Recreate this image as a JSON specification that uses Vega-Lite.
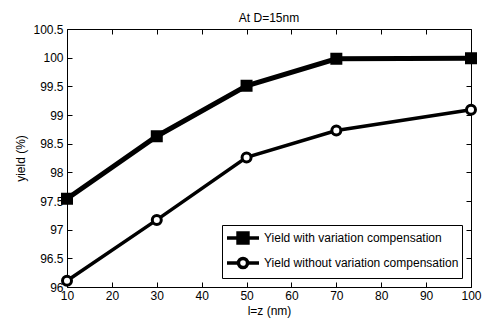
{
  "$schema": "https://vega.github.io/schema/vega-lite/v6.json",
  "autosize": "none",
  "width": 404,
  "height": 258,
  "padding": {"left": 67, "top": 29, "right": 13, "bottom": 33},
  "background": "white",
  "config": {
    "font": "Liberation Sans",
    "view": {"stroke": "black", "strokeWidth": 1},
    "axis": {"grid": false, "domain": false, "tickColor": "black", "tickSize": -5, "tickWidth": 1, "labelColor": "black", "labelFont": "Liberation Sans", "labelFontSize": 12, "titleFont": "Liberation Sans", "titleFontSize": 12, "titleFontWeight": "normal", "titleColor": "black"},
    "legend": {"labelFont": "Liberation Sans", "labelFontSize": 12, "labelColor": "black", "labelLimit": 400}
  },
  "title": {"text": "At D=15nm", "fontSize": 12, "fontWeight": "normal", "font": "Liberation Sans", "color": "black", "dy": 6},
  "data": {"values": [
    {"x": 10, "y": 97.54, "series": "Yield with variation compensation"},
    {"x": 30, "y": 98.63, "series": "Yield with variation compensation"},
    {"x": 50, "y": 99.51, "series": "Yield with variation compensation"},
    {"x": 70, "y": 99.98, "series": "Yield with variation compensation"},
    {"x": 100, "y": 99.99, "series": "Yield with variation compensation"},
    {"x": 10, "y": 96.11, "series": "Yield without variation compensation"},
    {"x": 30, "y": 97.17, "series": "Yield without variation compensation"},
    {"x": 50, "y": 98.26, "series": "Yield without variation compensation"},
    {"x": 70, "y": 98.73, "series": "Yield without variation compensation"},
    {"x": 100, "y": 99.09, "series": "Yield without variation compensation"}
  ]},
  "resolve": {"axis": {"x": "independent", "y": "independent"}},
  "layer": [
    {
      "transform": [{"filter": "datum.series === 'Yield with variation compensation'"}],
      "mark": {"type": "line", "color": "black", "strokeWidth": 5},
      "encoding": {
        "x": {"field": "x", "type": "quantitative", "scale": {"domain": [10, 100], "nice": false, "zero": false}, "axis": {"values": [10, 20, 30, 40, 50, 60, 70, 80, 90, 100], "title": "l=z (nm)", "labelPadding": 8, "titlePadding": 4, "labelFlush": false, "labelOverlap": false}},
        "y": {"field": "y", "type": "quantitative", "scale": {"domain": [96, 100.5], "nice": false, "zero": false}, "axis": {"values": [96, 96.5, 97, 97.5, 98, 98.5, 99, 99.5, 100, 100.5], "format": "~g", "title": "yield (%)", "labelPadding": 9, "titlePadding": 5, "labelFlush": false, "labelOverlap": false}}
      }
    },
    {
      "transform": [{"filter": "datum.series === 'Yield without variation compensation'"}],
      "mark": {"type": "line", "color": "black", "strokeWidth": 3.5},
      "encoding": {
        "x": {"field": "x", "type": "quantitative", "axis": null},
        "y": {"field": "y", "type": "quantitative", "axis": null}
      }
    },
    {
      "transform": [{"filter": "datum.series === 'Yield with variation compensation'"}],
      "mark": {"type": "point", "shape": "square", "fill": "black", "stroke": "black", "opacity": 1, "strokeWidth": 3, "size": 81},
      "encoding": {
        "x": {"field": "x", "type": "quantitative", "axis": {"orient": "top", "values": [10, 20, 30, 40, 50, 60, 70, 80, 90, 100], "labels": false, "title": null}},
        "y": {"field": "y", "type": "quantitative", "axis": {"orient": "right", "values": [96, 96.5, 97, 97.5, 98, 98.5, 99, 99.5, 100, 100.5], "labels": false, "title": null}}
      }
    },
    {
      "transform": [{"filter": "datum.series === 'Yield without variation compensation'"}],
      "mark": {"type": "point", "shape": "circle", "fill": "white", "stroke": "black", "opacity": 1, "strokeWidth": 3, "size": 81},
      "encoding": {
        "x": {"field": "x", "type": "quantitative", "axis": null},
        "y": {"field": "y", "type": "quantitative", "axis": null}
      }
    },
    {
      "transform": [{"filter": "false"}],
      "mark": {"type": "point", "stroke": "black", "opacity": 1, "strokeWidth": 3.5, "filled": true},
      "encoding": {
        "x": {"field": "x", "type": "quantitative", "axis": null},
        "y": {"field": "y", "type": "quantitative", "axis": null},
        "shape": {"field": "series", "type": "nominal", "scale": {"domain": ["Yield with variation compensation", "Yield without variation compensation"], "range": ["M-1,0H3M0.38,-0.62H1.62V0.62H0.38Z", "M-1,0H0.43M1.57,0H3M1.57,0A0.57,0.57 0 1,1 0.43,0A0.57,0.57 0 1,1 1.57,0Z"]}, "legend": {
          "title": null, "orient": "bottom-right", "offset": 9, "strokeColor": "black", "fillColor": "white", "padding": 3, "symbolSize": 256, "symbolStrokeWidth": 3.5, "rowPadding": 1, "labelOffset": 19, "labelLimit": 400,
          "encode": {"symbols": {"stroke": {"value": "black"}, "strokeWidth": {"value": 3.5}}}
        }},
        "fill": {"field": "series", "type": "nominal", "scale": {"domain": ["Yield with variation compensation", "Yield without variation compensation"], "range": ["black", "white"]}, "legend": {
          "title": null, "orient": "bottom-right", "offset": 9, "strokeColor": "black", "fillColor": "white", "padding": 3, "symbolSize": 256, "symbolStrokeWidth": 3.5, "rowPadding": 1, "labelOffset": 19, "labelLimit": 400,
          "encode": {"symbols": {"stroke": {"value": "black"}, "strokeWidth": {"value": 3.5}}}
        }}
      }
    }
  ]
}
